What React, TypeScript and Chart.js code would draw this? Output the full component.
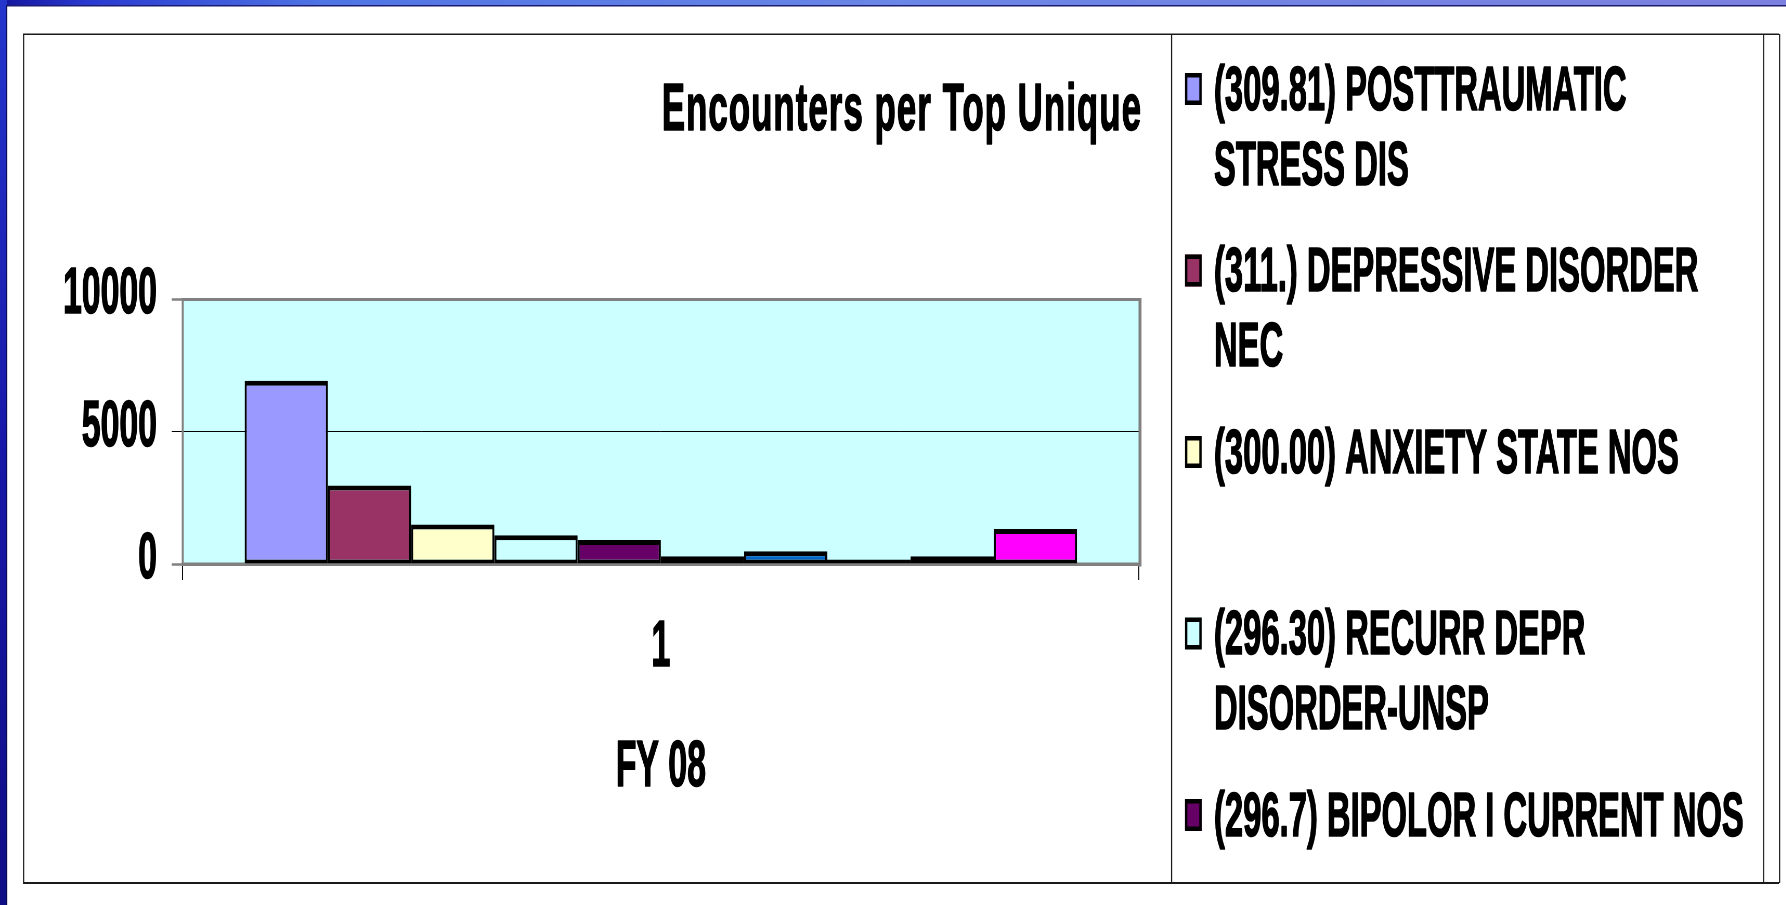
import React, { useEffect, useRef } from 'react';
import { Chart, registerables } from 'chart.js';

Chart.register(...registerables);

// ---- data ----
const categories = ['1'];
const seriesLabels = [
  '(309.81) POSTTRAUMATIC STRESS DIS',
  '(311.) DEPRESSIVE DISORDER NEC',
  '(300.00) ANXIETY STATE NOS',
  '(296.30) RECURR DEPR DISORDER-UNSP',
  '(296.7) BIPOLOR I CURRENT NOS',
  'Series 6',
  'Series 7',
  'Series 8',
  'Series 9',
  'Series 10',
];
const seriesValues = [6930, 2970, 1490, 1090, 910, 290, 480, 170, 290, 1320];
const seriesColors = [
  '#9999FF', '#993366', '#FFFFCC', '#CCFFFF', '#660066',
  '#FF8080', '#0066CC', '#CCCCFF', '#000080', '#FF00FF',
];
const yTickValues = [0, 5000, 10000];
const chartTitle = 'Encounters per Top Unique';
const xAxisTitle = 'FY 08';

// ---- geometry (the original picture is horizontally compressed) ----
const S = 0.52;
const FULL_W = 1786;
const FULL_H = 905;
const CW = Math.round(FULL_W / S);
const u = (x: number) => x / S;
const FONT = '"Liberation Sans", Arial, Helvetica, sans-serif';

const PLOT_LEFT = u(182.7);
const PLOT_RIGHT = u(1139);
const PLOT_TOP = 299.5;
const PLOT_BOTTOM = 564;
const TICK_SIZE = 65;

function wrapText(ctx: CanvasRenderingContext2D, text: string, maxW: number): string[] {
  const words = text.split(' ');
  const lines: string[] = [];
  let cur = '';
  for (const w of words) {
    const t = cur ? cur + ' ' + w : w;
    if (cur && ctx.measureText(t).width > maxW) {
      lines.push(cur);
      cur = w;
    } else {
      cur = t;
    }
  }
  if (cur) lines.push(cur);
  return lines;
}

function boldText(ctx: CanvasRenderingContext2D, s: string, x: number, y: number) {
  ctx.strokeText(s, x, y);
  ctx.fillText(s, x, y);
}

const framePlugin = {
  id: 'slideFrame',
  beforeDraw(chart: any) {
    const { ctx, chartArea: a } = chart;
    ctx.save();
    ctx.fillStyle = '#ffffff';
    ctx.fillRect(0, 0, CW, FULL_H);

    // top blue strip
    const g = ctx.createLinearGradient(0, 0, CW, 0);
    g.addColorStop(0, '#14149c');
    g.addColorStop(0.05, '#2a3ad0');
    g.addColorStop(0.18, '#4f74e4');
    g.addColorStop(0.5, '#6a86e6');
    g.addColorStop(1, '#7c80de');
    ctx.fillStyle = g;
    ctx.fillRect(0, 0, CW, 6);
    ctx.fillStyle = '#1c1c70';
    ctx.fillRect(0, 5, CW, 1.5);

    // left blue strip
    const g2 = ctx.createLinearGradient(0, 0, 0, FULL_H);
    g2.addColorStop(0, '#2436cc');
    g2.addColorStop(0.5, '#1818a8');
    g2.addColorStop(1, '#0e0e86');
    ctx.fillStyle = g2;
    ctx.fillRect(0, 0, u(7), FULL_H);
    ctx.fillStyle = '#0a0a50';
    ctx.fillRect(u(6.3), 5, u(1), FULL_H);

    // plot background
    ctx.fillStyle = '#CCFFFF';
    ctx.fillRect(a.left, a.top, a.right - a.left, a.bottom - a.top);

    // outer chart box and legend box
    ctx.fillStyle = '#1a1a1a';
    ctx.fillRect(u(23), 33.5, u(1779) - u(23), 1.5);
    ctx.fillRect(u(23), 882, u(1779) - u(23), 2);
    const vx = [23, 1171, 1763, 1779];
    for (const x of vx) ctx.fillRect(u(x), 34, u(1.2), 849);
    ctx.restore();
  },
  beforeDatasetsDraw(chart: any) {
    const { ctx, chartArea: a } = chart;
    ctx.save();
    ctx.fillStyle = '#808080';
    const w = a.right - a.left;
    ctx.fillRect(a.left - u(1), a.top - 1.5, w + u(2.5), 3);
    ctx.fillRect(a.left - u(1), a.bottom - 1.5, w + u(2.5), 3.5);
    ctx.fillRect(a.left - u(1), a.top - 1.5, u(2), a.bottom - a.top + 3);
    ctx.fillRect(a.right - u(0.5), a.top - 1.5, u(3), a.bottom - a.top + 4);
    ctx.restore();
  },
  afterDraw(chart: any) {
    const { ctx, chartArea: a } = chart;
    ctx.save();
    ctx.fillStyle = '#000';
    ctx.strokeStyle = '#000';
    ctx.lineWidth = 1.6;
    ctx.lineJoin = 'round';

    // x-axis title, centred under the category axis
    ctx.font = `bold ${TICK_SIZE}px ${FONT}`;
    ctx.textAlign = 'center';
    ctx.textBaseline = 'middle';
    boldText(ctx, xAxisTitle, (a.left + a.right) / 2, 768);

    // chart title
    ctx.font = `bold 67px ${FONT}`;
    ctx.textAlign = 'right';
    ctx.textBaseline = 'alphabetic';
    (ctx as any).letterSpacing = '2px';
    boldText(ctx, chartTitle, u(1142), 130);
    (ctx as any).letterSpacing = '0px';

    // legend
    const size = 63;
    ctx.font = `bold ${size}px ${FONT}`;
    ctx.textAlign = 'left';
    const lx = u(1185);
    const tx = u(1214);
    const maxW = u(545);
    const boxBottom = 882;
    chart.data.datasets.forEach((ds: any, i: number) => {
      const yc = 87 + 181.5 * i;
      if (yc + 30 > boxBottom) return;
      const sw = 32;
      const sy = yc + 2 - sw / 2;
      ctx.fillStyle = ds.backgroundColor;
      ctx.fillRect(lx, sy, sw, sw);
      ctx.save();
      ctx.strokeStyle = '#000';
      ctx.lineWidth = 4.5;
      ctx.lineJoin = 'miter';
      ctx.strokeRect(lx + 2.25, sy + 2.25, sw - 4.5, sw - 4.5);
      ctx.restore();
      ctx.fillStyle = '#000';
      const lines = wrapText(ctx, ds.label, maxW);
      lines.forEach((ln, j) => {
        const y = yc + 75 * j + 0.358 * size;
        if (y < boxBottom) boldText(ctx, ln, tx, y);
      });
    });
    ctx.restore();
  },
};

export default function App() {
  const ref = useRef<HTMLCanvasElement | null>(null);

  useEffect(() => {
    const canvas = ref.current;
    if (!canvas) return;
    const datasets = seriesLabels.map((label, i) => ({
      label,
      data: [seriesValues[i]],
      backgroundColor: seriesColors[i],
      borderColor: '#000000',
      borderWidth: { top: 5, bottom: 4, left: 4, right: 4 },
      borderSkipped: false,
      categoryPercentage: 0.8704,
      barPercentage: 1.0,
    }));
    const chart = new Chart(canvas, {
      type: 'bar',
      data: { labels: categories, datasets },
      plugins: [framePlugin],
      options: {
        animation: false,
        responsive: false,
        events: [],
        layout: {
          padding: { left: 0, top: PLOT_TOP, right: CW - PLOT_RIGHT, bottom: 0 },
        },
        plugins: {
          legend: { display: false },
          title: { display: false },
          tooltip: { enabled: false },
        },
        scales: {
          x: {
            type: 'category',
            offset: true,
            border: { display: false },
            grid: {
              offset: true,
              drawOnChartArea: false,
              drawTicks: true,
              tickLength: 16,
              color: '#000000',
              lineWidth: u(1),
            },
            ticks: {
              color: '#000000',
              padding: 29,
              textStrokeColor: '#000000',
              textStrokeWidth: 1.6,
              font: { family: FONT, size: TICK_SIZE, weight: 'bold' },
            },
            title: { display: false, text: xAxisTitle },
            afterFit: (scale: any) => {
              scale.height = FULL_H - PLOT_BOTTOM;
            },
          },
          y: {
            type: 'linear',
            min: 0,
            max: 10000,
            border: { display: false },
            grid: {
              color: '#000000',
              lineWidth: 1,
              drawTicks: true,
              tickLength: u(11),
              tickColor: (c: any) => (c.index === 1 ? '#000000' : '#808080'),
              tickWidth: (c: any) => (c.index === 1 ? 1 : 2.5),
            },
            ticks: {
              color: '#000000',
              padding: PLOT_LEFT - u(11) - u(157),
              labelOffset: -4,
              textStrokeColor: '#000000',
              textStrokeWidth: 1.6,
              font: { family: FONT, size: TICK_SIZE, weight: 'bold' },
              callback: (v: any) => String(v),
            },
            afterBuildTicks: (scale: any) => {
              scale.ticks = yTickValues.map((v) => ({ value: v }));
            },
            afterFit: (scale: any) => {
              scale.width = PLOT_LEFT;
            },
          },
        },
      } as any,
    });
    return () => chart.destroy();
  }, []);

  return (
    <div
      style={{
        position: 'fixed',
        left: 0,
        top: 0,
        width: FULL_W,
        height: FULL_H,
        overflow: 'hidden',
        background: '#ffffff',
      }}
    >
      <div
        style={{
          width: CW,
          height: FULL_H,
          transform: `scaleX(${S})`,
          transformOrigin: '0 0',
        }}
      >
        <canvas ref={ref} width={CW} height={FULL_H} />
      </div>
    </div>
  );
}
